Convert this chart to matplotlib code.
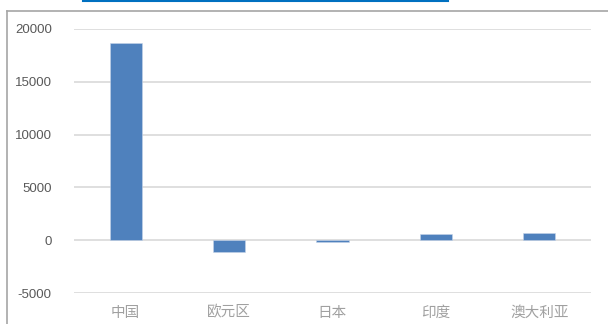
import matplotlib.pyplot as plt
from matplotlib.lines import Line2D

# Chart values
regions = ["中国", "欧元区", "日本", "印度", "澳大利亚"]
values = [18700, -1150, -150, 550, 700]
yticks = [-5000, 0, 5000, 10000, 15000, 20000]

bar_color = "#4F81BD"
grid_color = "#D9D9D9"

fig = plt.figure(figsize=(6.08, 3.24), dpi=100)
ax = fig.add_axes([74 / 608, 1 - 293 / 324, (591 - 74) / 608, (293 - 29) / 324])

ax.bar(range(len(regions)), values, width=0.31, color=bar_color,
       edgecolor="#C5D4E8", linewidth=0.4, zorder=3)

ax.set_xlim(-0.5, len(regions) - 0.5)
ax.set_ylim(-5000, 20000)
ax.set_yticks(yticks)
ax.set_yticklabels([str(t) for t in yticks], fontsize=9.5,
                   family="Liberation Sans", color="#595959")
ax.set_xticks(range(len(regions)))
ax.set_xticklabels(regions, fontsize=10.5, family=["Noto Sans CJK SC", "DejaVu Sans"],
                   color="#A0A0A0", fontweight="light")
ax.tick_params(axis="y", length=0, pad=16)
ax.tick_params(axis="x", length=0, pad=9)

ax.grid(axis="y", color=grid_color, linewidth=1.2, zorder=0)
for side in ax.spines.values():
    side.set_visible(False)

# Outer chart frame and top accent line
W, H = 608, 324
fig.add_artist(Line2D([7 / W, 1], [1 - 11 / H] * 2, color="#A6A6A6", lw=1.2))
fig.add_artist(Line2D([7 / W] * 2, [0, 1 - 11 / H], color="#A6A6A6", lw=1.2))
fig.add_artist(Line2D([83 / W, 448 / W], [1 - 0.8 / H] * 2, color="#0070C0", lw=1.5))

fig.savefig("out.png", dpi=100)
